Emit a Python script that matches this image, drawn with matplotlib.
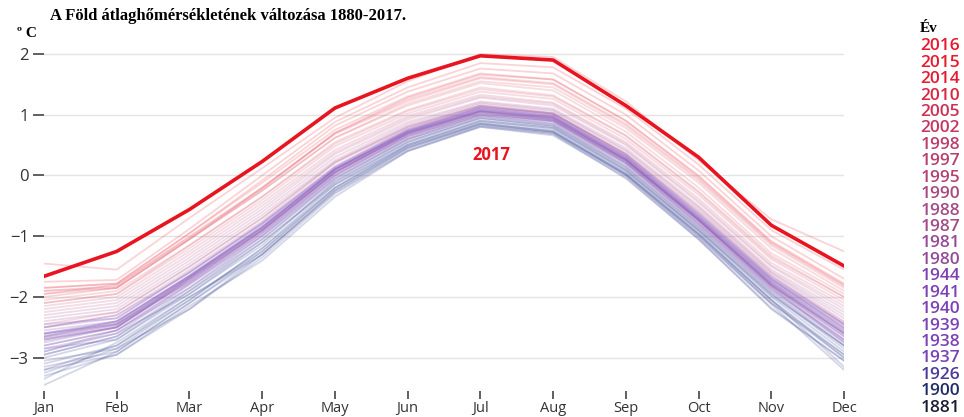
import numpy as np
import matplotlib
matplotlib.use("Agg")
import matplotlib.pyplot as plt
from matplotlib.colors import LinearSegmentedColormap

months = ["Jan", "Feb", "Mar", "Apr", "May", "Jun", "Jul", "Aug", "Sep", "Oct", "Nov", "Dec"]

# monthly temperature per year (estimated)
years = {
    1881: [-3.05, -2.85, -2.2, -1.3, -0.25, 0.45, 0.85, 0.72, 0.02, -0.98, -2.1, -2.95],
    1884: [-3.3, -2.95, -2.15, -1.4, -0.35, 0.4, 0.8, 0.68, -0.05, -1.05, -2.2, -3.05],
    1887: [-3.45, -2.9, -2.1, -1.25, -0.2, 0.5, 0.88, 0.75, 0.05, -0.95, -2.05, -3.15],
    1890: [-3.2, -2.8, -2.05, -1.2, -0.15, 0.5, 0.9, 0.78, 0.08, -0.92, -2.0, -2.9],
    1893: [-3.35, -2.75, -2.0, -1.3, -0.28, 0.42, 0.82, 0.7, 0.0, -1.02, -2.12, -3.2],
    1897: [-3.0, -2.7, -1.95, -1.15, -0.1, 0.55, 0.93, 0.8, 0.1, -0.9, -1.95, -2.85],
    1900: [-2.95, -2.65, -1.9, -1.1, -0.12, 0.55, 0.95, 0.82, 0.12, -0.88, -1.95, -2.8],
    1904: [-3.15, -2.9, -2.1, -1.3, -0.25, 0.45, 0.83, 0.7, 0.0, -1.0, -2.1, -3.0],
    1907: [-3.25, -2.85, -2.05, -1.2, -0.2, 0.48, 0.86, 0.72, 0.02, -0.97, -2.05, -2.95],
    1910: [-3.1, -2.8, -2.0, -1.25, -0.22, 0.47, 0.85, 0.73, 0.03, -0.96, -2.05, -3.0],
    1913: [-2.9, -2.6, -1.95, -1.1, -0.15, 0.52, 0.9, 0.78, 0.08, -0.9, -1.98, -2.8],
    1917: [-3.2, -2.95, -2.2, -1.35, -0.3, 0.4, 0.8, 0.66, -0.03, -1.05, -2.18, -3.05],
    1920: [-2.85, -2.7, -1.9, -1.05, -0.08, 0.58, 0.95, 0.82, 0.14, -0.85, -1.9, -2.75],
    1923: [-2.8, -2.55, -1.85, -1.0, -0.05, 0.6, 0.98, 0.85, 0.18, -0.82, -1.88, -2.7],
    1926: [-2.75, -2.5, -1.75, -0.95, 0.0, 0.65, 1.02, 0.9, 0.22, -0.75, -1.82, -2.65],
    1929: [-2.95, -2.65, -1.85, -1.05, -0.05, 0.6, 0.98, 0.85, 0.15, -0.85, -1.92, -2.8],
    1932: [-2.65, -2.45, -1.75, -0.9, 0.05, 0.68, 1.05, 0.92, 0.25, -0.72, -1.8, -2.6],
    1935: [-2.7, -2.5, -1.7, -0.9, 0.05, 0.7, 1.06, 0.95, 0.26, -0.72, -1.78, -2.58],
    1937: [-2.55, -2.4, -1.65, -0.85, 0.1, 0.72, 1.1, 0.97, 0.3, -0.68, -1.72, -2.5],
    1938: [-2.5, -2.35, -1.6, -0.8, 0.12, 0.75, 1.12, 1.0, 0.32, -0.65, -1.7, -2.45],
    1939: [-2.6, -2.45, -1.68, -0.85, 0.1, 0.73, 1.1, 0.98, 0.3, -0.68, -1.72, -2.48],
    1940: [-2.65, -2.4, -1.65, -0.82, 0.12, 0.74, 1.12, 1.0, 0.32, -0.66, -1.7, -2.52],
    1941: [-2.5, -2.3, -1.6, -0.78, 0.15, 0.78, 1.15, 1.03, 0.35, -0.62, -1.68, -2.45],
    1944: [-2.45, -2.35, -1.58, -0.78, 0.14, 0.76, 1.13, 1.02, 0.34, -0.63, -1.66, -2.42],
    1947: [-2.7, -2.5, -1.72, -0.92, 0.05, 0.68, 1.05, 0.93, 0.25, -0.74, -1.8, -2.6],
    1950: [-2.85, -2.6, -1.8, -1.0, -0.02, 0.62, 1.0, 0.88, 0.2, -0.8, -1.86, -2.72],
    1953: [-2.6, -2.42, -1.66, -0.86, 0.1, 0.72, 1.08, 0.96, 0.28, -0.7, -1.75, -2.55],
    1956: [-2.9, -2.55, -1.78, -0.98, 0.0, 0.64, 1.0, 0.89, 0.2, -0.8, -1.85, -2.75],
    1959: [-2.62, -2.44, -1.68, -0.88, 0.08, 0.7, 1.07, 0.95, 0.27, -0.72, -1.76, -2.56],
    1962: [-2.6, -2.4, -1.65, -0.85, 0.1, 0.72, 1.08, 0.97, 0.28, -0.7, -1.75, -2.52],
    1965: [-2.8, -2.55, -1.78, -0.95, 0.02, 0.65, 1.02, 0.9, 0.22, -0.78, -1.83, -2.7],
    1968: [-2.68, -2.48, -1.7, -0.9, 0.06, 0.69, 1.05, 0.93, 0.25, -0.74, -1.8, -2.62],
    1971: [-2.66, -2.46, -1.68, -0.88, 0.08, 0.7, 1.06, 0.94, 0.26, -0.73, -1.78, -2.6],
    1974: [-2.72, -2.5, -1.72, -0.92, 0.04, 0.67, 1.03, 0.91, 0.23, -0.76, -1.82, -2.65],
    1977: [-2.4, -2.25, -1.5, -0.7, 0.22, 0.82, 1.18, 1.06, 0.4, -0.55, -1.6, -2.35],
    1980: [-2.35, -2.2, -1.45, -0.65, 0.25, 0.85, 1.2, 1.08, 0.42, -0.52, -1.58, -2.3],
    1981: [-2.3, -2.15, -1.4, -0.6, 0.3, 0.88, 1.22, 1.1, 0.45, -0.5, -1.55, -2.25],
    1984: [-2.5, -2.3, -1.55, -0.75, 0.2, 0.8, 1.15, 1.02, 0.36, -0.6, -1.65, -2.45],
    1987: [-2.25, -2.1, -1.35, -0.55, 0.35, 0.92, 1.28, 1.15, 0.5, -0.45, -1.5, -2.2],
    1988: [-2.2, -2.05, -1.3, -0.5, 0.38, 0.95, 1.3, 1.18, 0.52, -0.42, -1.48, -2.15],
    1990: [-2.15, -2.0, -1.25, -0.45, 0.42, 0.98, 1.33, 1.2, 0.55, -0.38, -1.44, -2.1],
    1992: [-2.45, -2.25, -1.5, -0.7, 0.22, 0.8, 1.15, 1.02, 0.36, -0.58, -1.62, -2.4],
    1995: [-2.1, -1.95, -1.2, -0.4, 0.48, 1.02, 1.38, 1.26, 0.6, -0.32, -1.38, -2.05],
    1997: [-2.05, -1.9, -1.15, -0.35, 0.52, 1.06, 1.42, 1.3, 0.65, -0.28, -1.35, -2.0],
    1998: [-1.9, -1.85, -1.05, -0.25, 0.62, 1.15, 1.52, 1.4, 0.72, -0.2, -1.28, -1.95],
    2000: [-2.1, -1.95, -1.15, -0.35, 0.55, 1.08, 1.45, 1.32, 0.66, -0.26, -1.32, -2.0],
    2002: [-1.95, -1.85, -1.05, -0.25, 0.62, 1.18, 1.55, 1.45, 0.78, -0.12, -1.2, -1.9],
    2005: [-1.9, -1.82, -1.0, -0.2, 0.68, 1.22, 1.6, 1.5, 0.82, -0.08, -1.15, -1.85],
    2007: [-1.95, -1.8, -1.02, -0.22, 0.7, 1.25, 1.62, 1.52, 0.85, -0.05, -1.12, -1.82],
    2010: [-1.85, -1.78, -0.95, -0.12, 0.75, 1.3, 1.68, 1.58, 0.9, 0.0, -1.08, -1.78],
    2012: [-2.0, -1.85, -1.05, -0.2, 0.7, 1.28, 1.66, 1.58, 0.9, -0.02, -1.1, -1.8],
    2014: [-1.85, -1.78, -0.95, -0.08, 0.82, 1.38, 1.76, 1.68, 1.0, 0.08, -1.0, -1.7],
    2015: [-1.75, -1.72, -0.88, 0.0, 0.88, 1.45, 1.85, 1.78, 1.1, 0.18, -0.9, -1.55],
    2016: [-1.45, -1.55, -0.7, 0.12, 0.95, 1.55, 2.0, 1.95, 1.22, 0.25, -0.72, -1.25],
}
temp_2017 = [-1.66, -1.25, -0.56, 0.23, 1.11, 1.6, 1.97, 1.9, 1.15, 0.3, -0.82, -1.49]

legend_years = [2016, 2015, 2014, 2010, 2005, 2002, 1998, 1997, 1995, 1990, 1988,
                1987, 1981, 1980, 1944, 1941, 1940, 1939, 1938, 1937, 1926, 1900, 1881]

# colour by year
stops = [(1880, "#1a1c30"), (1900, "#1f2c66"), (1926, "#4b3c9c"), (1938, "#7a40b8"),
         (1960, "#8444a8"), (1980, "#924a98"), (1990, "#a84a80"), (2002, "#c43760"),
         (2016, "#e8192c")]
y0, y1 = stops[0][0], stops[-1][0]
cmap = LinearSegmentedColormap.from_list(
    "years", [((y - y0) / (y1 - y0), c) for y, c in stops])

def year_color(y):
    return cmap((y - y0) / (y1 - y0))

# old lines look bluish in the bundle
line_stops = [(1880, "#3a4a90"), (1910, "#404a9c"), (1926, "#5a48a8"), (1938, "#7a48b8"),
              (1970, "#8a50b0"), (1985, "#c06090"), (2000, "#e06070"), (2016, "#ec3a48")]
line_cmap = LinearSegmentedColormap.from_list(
    "lines", [((y - y0) / (y1 - y0), c) for y, c in line_stops])

fig = plt.figure(figsize=(9.64, 4.17), dpi=100)
ax = fig.add_axes([0.0456, 0.062, 0.83, 0.845])

x = np.arange(len(months))
for yr, vals in years.items():
    ax.plot(x, vals, color=line_cmap((yr - y0) / (y1 - y0)), alpha=0.22, lw=1.3)

ax.plot(x, temp_2017, color="#e8141f", lw=2.6, zorder=5)
ax.text(6.15, 0.34, "2017", color="#e8141f", fontsize=12, fontweight="bold",
        family="Open Sans", ha="center", va="center")

ax.set_xlim(0, 11)
ax.set_ylim(-3.55, 2.25)
ax.set_xticks(x)
ax.set_xticklabels(months)
ax.set_yticks([-3, -2, -1, 0, 1, 2])
ax.set_yticklabels(["\u22123", "\u22122", "\u22121", "0", "1", "2"])
ax.grid(axis="y", color="#e4e4e4", lw=1)
ax.set_axisbelow(True)
for s in ax.spines.values():
    s.set_visible(False)
ax.tick_params(axis="x", length=6, width=1.2, color="#444444", pad=1,
               labelsize=10.5, labelcolor="#333333")
ax.tick_params(axis="y", length=8, width=1.2, color="#444444", pad=3,
               labelsize=12, labelcolor="#333333")
for lab in ax.get_xticklabels() + ax.get_yticklabels():
    lab.set_family("Open Sans")

fig.text(0.052, 0.962, "A Föld átlaghőmérsékletének változása 1880-2017.",
         family="Liberation Serif", fontweight="bold", fontsize=12, va="center")
fig.text(0.018, 0.92, "º C", family="Liberation Serif", fontweight="bold",
         fontsize=11, va="center")

fig.text(0.954, 0.932, "Év", family="Liberation Serif", fontweight="bold",
         fontsize=11, va="center")
top, step = 0.889, 0.0394
for i, yr in enumerate(legend_years):
    fig.text(0.9755, top - i * step, str(yr), color=year_color(yr), family="Open Sans",
             fontsize=12.5, fontweight="semibold", ha="center", va="center")

fig.savefig("out.png", dpi=100)
